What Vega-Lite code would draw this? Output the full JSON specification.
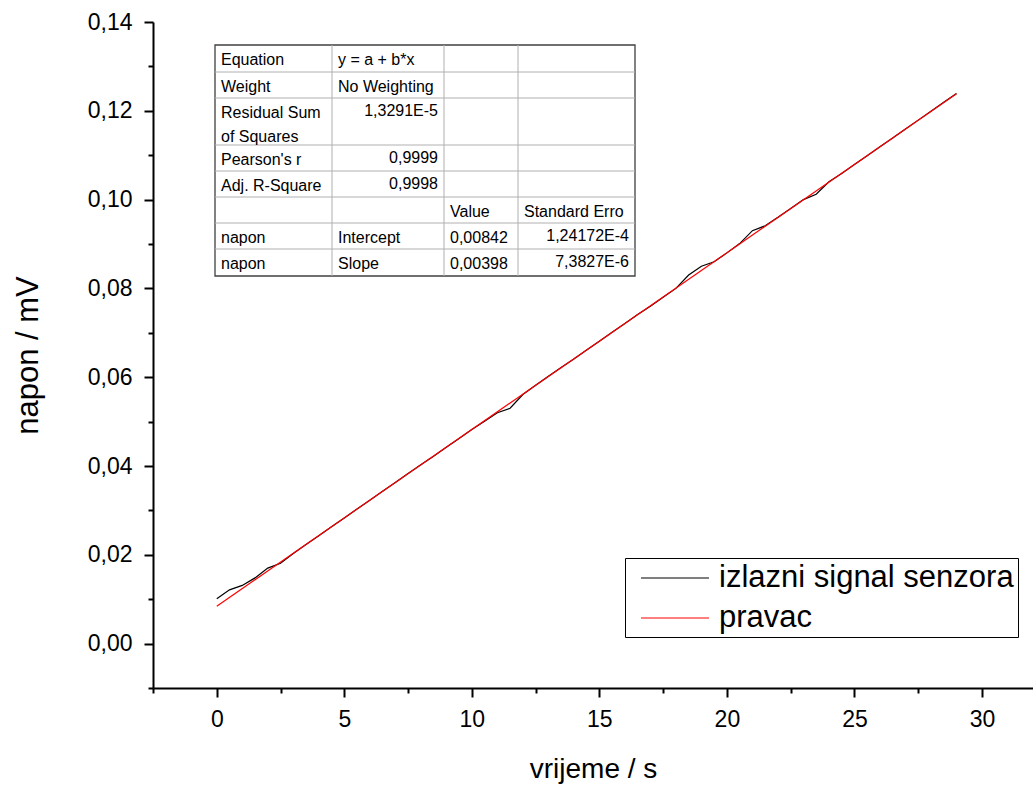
{
  "$schema": "https://vega.github.io/schema/vega-lite/v6.json",
  "width": 880,
  "height": 666,
  "autosize": {"type": "none"},
  "padding": {"left": 153, "top": 22, "right": 0, "bottom": 102},
  "background": "white",
  "config": {
    "view": {"stroke": null},
    "font": "Liberation Sans",
    "text": {"font": "Liberation Sans"}
  },
  "datasets": {
    "signal": [
      {"t": 0, "u": 0.0101, "series": "izlazni signal senzora"},
      {"t": 0.5, "u": 0.0121, "series": "izlazni signal senzora"},
      {"t": 1, "u": 0.0131, "series": "izlazni signal senzora"},
      {"t": 1.5, "u": 0.0148, "series": "izlazni signal senzora"},
      {"t": 2, "u": 0.0170, "series": "izlazni signal senzora"},
      {"t": 2.5, "u": 0.0181, "series": "izlazni signal senzora"},
      {"t": 3, "u": 0.0203, "series": "izlazni signal senzora"},
      {"t": 3.5, "u": 0.0223, "series": "izlazni signal senzora"},
      {"t": 4, "u": 0.0243, "series": "izlazni signal senzora"},
      {"t": 4.5, "u": 0.0263, "series": "izlazni signal senzora"},
      {"t": 5, "u": 0.0283, "series": "izlazni signal senzora"},
      {"t": 5.5, "u": 0.0303, "series": "izlazni signal senzora"},
      {"t": 6, "u": 0.0323, "series": "izlazni signal senzora"},
      {"t": 6.5, "u": 0.0343, "series": "izlazni signal senzora"},
      {"t": 7, "u": 0.0363, "series": "izlazni signal senzora"},
      {"t": 7.5, "u": 0.0383, "series": "izlazni signal senzora"},
      {"t": 8, "u": 0.0403, "series": "izlazni signal senzora"},
      {"t": 8.5, "u": 0.0422, "series": "izlazni signal senzora"},
      {"t": 9, "u": 0.0442, "series": "izlazni signal senzora"},
      {"t": 9.5, "u": 0.0462, "series": "izlazni signal senzora"},
      {"t": 10, "u": 0.0482, "series": "izlazni signal senzora"},
      {"t": 10.5, "u": 0.0501, "series": "izlazni signal senzora"},
      {"t": 11, "u": 0.0520, "series": "izlazni signal senzora"},
      {"t": 11.5, "u": 0.0530, "series": "izlazni signal senzora"},
      {"t": 12, "u": 0.0561, "series": "izlazni signal senzora"},
      {"t": 12.5, "u": 0.0582, "series": "izlazni signal senzora"},
      {"t": 13, "u": 0.0602, "series": "izlazni signal senzora"},
      {"t": 13.5, "u": 0.0622, "series": "izlazni signal senzora"},
      {"t": 14, "u": 0.0641, "series": "izlazni signal senzora"},
      {"t": 14.5, "u": 0.0661, "series": "izlazni signal senzora"},
      {"t": 15, "u": 0.0681, "series": "izlazni signal senzora"},
      {"t": 15.5, "u": 0.0701, "series": "izlazni signal senzora"},
      {"t": 16, "u": 0.0721, "series": "izlazni signal senzora"},
      {"t": 16.5, "u": 0.0741, "series": "izlazni signal senzora"},
      {"t": 17, "u": 0.0760, "series": "izlazni signal senzora"},
      {"t": 17.5, "u": 0.0780, "series": "izlazni signal senzora"},
      {"t": 18, "u": 0.0800, "series": "izlazni signal senzora"},
      {"t": 18.5, "u": 0.0830, "series": "izlazni signal senzora"},
      {"t": 19, "u": 0.0850, "series": "izlazni signal senzora"},
      {"t": 19.5, "u": 0.0860, "series": "izlazni signal senzora"},
      {"t": 20, "u": 0.0880, "series": "izlazni signal senzora"},
      {"t": 20.5, "u": 0.0901, "series": "izlazni signal senzora"},
      {"t": 21, "u": 0.0930, "series": "izlazni signal senzora"},
      {"t": 21.5, "u": 0.0941, "series": "izlazni signal senzora"},
      {"t": 22, "u": 0.0960, "series": "izlazni signal senzora"},
      {"t": 22.5, "u": 0.0980, "series": "izlazni signal senzora"},
      {"t": 23, "u": 0.1000, "series": "izlazni signal senzora"},
      {"t": 23.5, "u": 0.1012, "series": "izlazni signal senzora"},
      {"t": 24, "u": 0.1040, "series": "izlazni signal senzora"},
      {"t": 24.5, "u": 0.1059, "series": "izlazni signal senzora"},
      {"t": 25, "u": 0.1079, "series": "izlazni signal senzora"},
      {"t": 25.5, "u": 0.1099, "series": "izlazni signal senzora"},
      {"t": 26, "u": 0.1119, "series": "izlazni signal senzora"},
      {"t": 26.5, "u": 0.1139, "series": "izlazni signal senzora"},
      {"t": 27, "u": 0.1159, "series": "izlazni signal senzora"},
      {"t": 27.5, "u": 0.1179, "series": "izlazni signal senzora"},
      {"t": 28, "u": 0.1199, "series": "izlazni signal senzora"},
      {"t": 28.5, "u": 0.1219, "series": "izlazni signal senzora"},
      {"t": 29, "u": 0.1239, "series": "izlazni signal senzora"},
      {"t": 0, "u": 0.00842, "series": "pravac"},
      {"t": 29, "u": 0.12384, "series": "pravac"}
    ],
    "cells": [
      {"r": 0, "c": 0, "txt": "Equation", "kind": "label"},
      {"r": 0, "c": 1, "txt": "y = a + b*x", "kind": "label"},
      {"r": 1, "c": 0, "txt": "Weight", "kind": "label"},
      {"r": 1, "c": 1, "txt": "No Weighting", "kind": "label"},
      {"r": 2, "c": 0, "txt": "Residual Sum", "kind": "label"},
      {"r": 2, "c": 1, "txt": "1,3291E-5", "kind": "num"},
      {"r": 3, "c": 0, "txt": "of Squares", "kind": "label"},
      {"r": 4, "c": 0, "txt": "Pearson's r", "kind": "label"},
      {"r": 4, "c": 1, "txt": "0,9999", "kind": "num"},
      {"r": 5, "c": 0, "txt": "Adj. R-Square", "kind": "label"},
      {"r": 5, "c": 1, "txt": "0,9998", "kind": "num"},
      {"r": 6, "c": 2, "txt": "Value", "kind": "label"},
      {"r": 6, "c": 3, "txt": "Standard Erro", "kind": "label"},
      {"r": 7, "c": 0, "txt": "napon", "kind": "label"},
      {"r": 7, "c": 1, "txt": "Intercept", "kind": "label"},
      {"r": 7, "c": 2, "txt": "0,00842", "kind": "label"},
      {"r": 7, "c": 3, "txt": "1,24172E-4", "kind": "num"},
      {"r": 8, "c": 0, "txt": "napon", "kind": "label"},
      {"r": 8, "c": 1, "txt": "Slope", "kind": "label"},
      {"r": 8, "c": 2, "txt": "0,00398", "kind": "label"},
      {"r": 8, "c": 3, "txt": "7,3827E-6", "kind": "num"}
    ],
    "hlines": [{"r": 1}, {"r": 2}, {"r": 4}, {"r": 5}, {"r": 6}, {"r": 7}, {"r": 8}],
    "vlines": [{"c": 1}, {"c": 2}, {"c": 3}],
    "frame": [{"name": "table"}]
  },
  "layer": [
    {
      "data": {"name": "signal"},
      "mark": {"type": "line", "strokeWidth": 1.2, "clip": true},
      "encoding": {
        "x": {
          "field": "t", "type": "quantitative",
          "scale": {"domain": [-2.5, 32], "nice": false, "zero": false},
          "axis": {
            "title": "vrijeme / s",
            "values": [-2.5, 0, 2.5, 5, 7.5, 10, 12.5, 15, 17.5, 20, 22.5, 25, 27.5, 30],
            "labelExpr": "datum.value % 5 == 0 ? format(datum.value, 'd') : ''",
            "tickSize": {"condition": {"test": "datum.value % 5 != 0", "value": 5}, "value": 9},
            "grid": false,
            "domainColor": "black", "domainWidth": 2,
            "tickColor": "black", "tickWidth": 2,
            "labelFont": "Liberation Sans", "labelFontSize": 23, "labelColor": "black",
            "labelPadding": 11, "labelFlush": false, "labelOverlap": false, "labelBound": false,
            "titleFont": "Liberation Sans", "titleFontSize": 28, "titleFontWeight": "normal", "titleColor": "black",
            "titlePadding": 24
          }
        },
        "y": {
          "field": "u", "type": "quantitative",
          "scale": {"domain": [-0.01, 0.14], "nice": false, "zero": false},
          "axis": {
            "title": "napon / mV",
            "values": [-0.01, 0, 0.01, 0.02, 0.03, 0.04, 0.05, 0.06, 0.07, 0.08, 0.09, 0.1, 0.11, 0.12, 0.13, 0.14],
            "labelExpr": "round(datum.value * 100) % 2 == 0 ? replace(format(datum.value, '.2f'), '.', ',') : ''",
            "tickSize": {"condition": {"test": "round(datum.value * 100) % 2 != 0", "value": 5}, "value": 9},
            "grid": false,
            "domainColor": "black", "domainWidth": 2,
            "tickColor": "black", "tickWidth": 2,
            "labelFont": "Liberation Sans", "labelFontSize": 23, "labelColor": "black",
            "labelPadding": 12, "labelFlush": false, "labelOverlap": false, "labelBound": false,
            "titleFont": "Liberation Sans", "titleFontSize": 31, "titleFontWeight": "normal", "titleColor": "black",
            "titlePadding": 43
          }
        },
        "color": {
          "field": "series", "type": "nominal",
          "scale": {"domain": ["izlazni signal senzora", "pravac"], "range": ["#000000", "#ff0000"]},
          "legend": {
            "title": null,
            "orient": "none",
            "legendX": 472,
            "legendY": 536,
            "strokeColor": "black",
            "fillColor": "white",
            "padding": 4,
            "symbolType": "M-0.27,0L4.27,0",
            "symbolSize": 900,
            "symbolStrokeWidth": 1.2,
            "labelFont": "Liberation Sans",
            "labelFontSize": 31,
            "labelColor": "black",
            "labelOffset": 58,
            "rowPadding": 9,
            "labelLimit": 500
          }
        }
      }
    },
    {
      "data": {"name": "frame"},
      "mark": {"type": "rect", "fill": "white", "stroke": "#404040", "strokeWidth": 1.3},
      "encoding": {
        "x": {"datum": 0, "type": "quantitative", "scale": {"domain": [0, 1, 2, 3, 4], "range": [62, 179, 291, 365, 482], "nice": false, "zero": false}, "axis": null},
        "x2": {"datum": 4},
        "y": {"datum": 0, "type": "quantitative", "scale": {"domain": [0, 1, 2, 3, 4, 5, 6, 7, 8, 9], "range": [23, 50, 76, 99.5, 123, 149, 175, 201, 227, 254], "nice": false, "zero": false}, "axis": null},
        "y2": {"datum": 9}
      }
    },
    {
      "data": {"name": "hlines"},
      "mark": {"type": "rule", "stroke": "#b0b0b0", "strokeWidth": 1},
      "encoding": {
        "x": {"datum": 0, "type": "quantitative", "scale": {"domain": [0, 1, 2, 3, 4], "range": [62, 179, 291, 365, 482], "nice": false, "zero": false}, "axis": null},
        "x2": {"datum": 4},
        "y": {"field": "r", "type": "quantitative", "scale": {"domain": [0, 1, 2, 3, 4, 5, 6, 7, 8, 9], "range": [23, 50, 76, 99.5, 123, 149, 175, 201, 227, 254], "nice": false, "zero": false}, "axis": null}
      }
    },
    {
      "data": {"name": "vlines"},
      "mark": {"type": "rule", "stroke": "#b0b0b0", "strokeWidth": 1},
      "encoding": {
        "x": {"field": "c", "type": "quantitative", "scale": {"domain": [0, 1, 2, 3, 4], "range": [62, 179, 291, 365, 482], "nice": false, "zero": false}, "axis": null},
        "y": {"datum": 0, "type": "quantitative", "scale": {"domain": [0, 1, 2, 3, 4, 5, 6, 7, 8, 9], "range": [23, 50, 76, 99.5, 123, 149, 175, 201, 227, 254], "nice": false, "zero": false}, "axis": null},
        "y2": {"datum": 9}
      }
    },
    {
      "data": {"name": "cells"},
      "transform": [{"filter": "datum.kind == 'label'"}],
      "mark": {"type": "text", "align": "left", "baseline": "middle", "dx": 6, "dy": 15, "fontSize": 16, "font": "Liberation Sans", "color": "black"},
      "encoding": {
        "x": {"field": "c", "type": "quantitative", "scale": {"domain": [0, 1, 2, 3, 4], "range": [62, 179, 291, 365, 482], "nice": false, "zero": false}, "axis": null},
        "y": {"field": "r", "type": "quantitative", "scale": {"domain": [0, 1, 2, 3, 4, 5, 6, 7, 8, 9], "range": [23, 50, 76, 99.5, 123, 149, 175, 201, 227, 254], "nice": false, "zero": false}, "axis": null},
        "text": {"field": "txt", "type": "nominal"}
      }
    },
    {
      "data": {"name": "cells"},
      "transform": [{"filter": "datum.kind == 'num'"}],
      "mark": {"type": "text", "align": "right", "baseline": "middle", "dx": -6, "dy": 13, "fontSize": 16, "font": "Liberation Sans", "color": "black"},
      "encoding": {
        "x": {"field": "c", "type": "quantitative", "scale": {"domain": [0, 1, 2, 3], "range": [179, 291, 365, 482], "nice": false, "zero": false}, "axis": null},
        "y": {"field": "r", "type": "quantitative", "scale": {"domain": [0, 1, 2, 3, 4, 5, 6, 7, 8, 9], "range": [23, 50, 76, 99.5, 123, 149, 175, 201, 227, 254], "nice": false, "zero": false}, "axis": null},
        "text": {"field": "txt", "type": "nominal"}
      }
    }
  ],
  "resolve": {"scale": {"x": "independent", "y": "independent"}}
}
